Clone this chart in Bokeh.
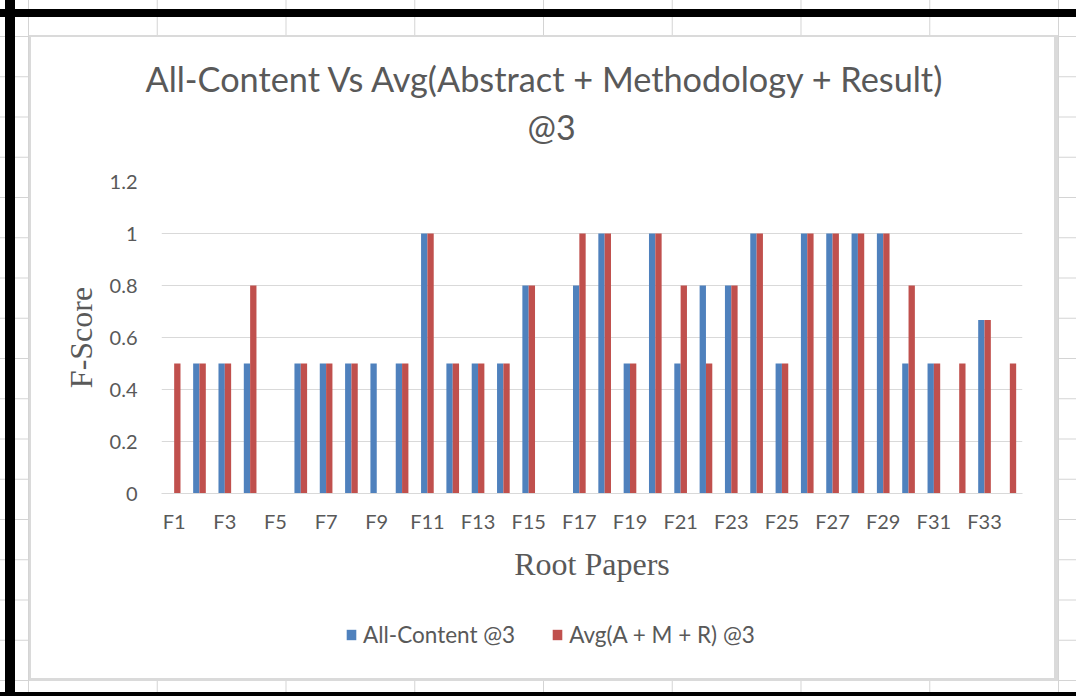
from bokeh.plotting import figure
from bokeh.layouts import column
from bokeh.models import (Range1d, ColumnDataSource, Legend, LegendItem,
                          Title, FixedTicker)
from bokeh.transform import dodge
from bokeh.embed import file_html
from bokeh.resources import INLINE

# ---------------- data ----------------
papers = ["F1", "F2", "F3", "F4", "F5", "F6", "F7", "F8", "F9", "F10",
          "F11", "F12", "F13", "F14", "F15", "F16", "F17", "F18", "F19", "F20",
          "F21", "F22", "F23", "F24", "F25", "F26", "F27", "F28", "F29", "F30",
          "F31", "F32", "F33", "F34"]
all_content = [0, 0.5, 0.5, 0.5, 0, 0.5, 0.5, 0.5, 0.5, 0.5,
               1, 0.5, 0.5, 0.5, 0.8, 0, 0.8, 1, 0.5, 1,
               0.5, 0.8, 0.8, 1, 0.5, 1, 1, 1, 1, 0.5,
               0.5, 0, 0.667, 0]
avg_amr = [0.5, 0.5, 0.5, 0.8, 0, 0.5, 0.5, 0.5, 0, 0.5,
           1, 0.5, 0.5, 0.5, 0.8, 0, 1, 1, 0.5, 1,
           0.8, 0.5, 0.8, 1, 0.5, 1, 1, 1, 1, 0.8,
           0.5, 0.5, 0.667, 0.5]
y_ticks = [0, 0.2, 0.4, 0.6, 0.8, 1.0, 1.2]
y_tick_labels = ["0", "0.2", "0.4", "0.6", "0.8", "1", "1.2"]
x_shown_labels = ["F1", "F3", "F5", "F7", "F9", "F11", "F13", "F15", "F17",
                  "F19", "F21", "F23", "F25", "F27", "F29", "F31", "F33"]
series_names = ["All-Content @3", "Avg(A + M + R) @3"]
title_line1 = "All-Content Vs Avg(Abstract + Methodology + Result)"
title_line2 = "@3"

BLUE = "#4F81BD"
RED = "#C0504D"
GRAY_TEXT = "#595959"
FONT = "Lato"
SERIF = "Liberation Serif"

# category positions along the x scale (1 .. n)
pos = [i + 1 for i in range(len(papers))]
src = ColumnDataSource(dict(pos=pos, paper=papers, all_content=all_content, avg_amr=avg_amr))

p = figure(x_range=Range1d(0.5, len(papers) + 0.5), y_range=Range1d(0, 1.2),
           frame_width=861, frame_height=312, title=None,
           output_backend="svg", toolbar_location=None,
           min_border_left=161, min_border_right=54,
           min_border_top=181, min_border_bottom=117)
p.border_fill_color = None
p.background_fill_color = None
p.outline_line_color = None

r1 = p.vbar(x=dodge("pos", -0.125), top="all_content", width=0.25,
            source=src, fill_color=BLUE, line_color=None)
r2 = p.vbar(x=dodge("pos", 0.125), top="avg_amr", width=0.25,
            source=src, fill_color=RED, line_color=None)

# grid
p.xgrid.grid_line_color = None
p.ygrid.ticker = FixedTicker(ticks=y_ticks)
p.ygrid.grid_line_color = "#d9d9d9"
p.ygrid.grid_line_width = 1

# y axis
ya = p.yaxis[0]
ya.ticker = FixedTicker(ticks=y_ticks)
ya.major_label_overrides = dict(zip(y_ticks, y_tick_labels))
ya.axis_line_color = None
ya.major_tick_line_color = None
ya.minor_tick_line_color = None
ya.major_label_text_font = FONT
ya.major_label_text_font_size = "20px"
ya.major_label_text_color = GRAY_TEXT
ya.major_label_standoff = 18
ya.axis_label = "F-Score"
ya.axis_label_text_font = SERIF
ya.axis_label_text_font_size = "32px"
ya.axis_label_text_font_style = "normal"
ya.axis_label_text_color = GRAY_TEXT
ya.axis_label_standoff = 8

# x axis: every other paper labelled
shown_pos = [pp for pp, f in zip(pos, papers) if f in x_shown_labels]
xa = p.xaxis[0]
xa.ticker = FixedTicker(ticks=shown_pos)
xa.major_label_overrides = {pp: f for pp, f in zip(pos, papers) if f in x_shown_labels}
xa.axis_line_color = "#d9d9d9"
xa.major_tick_line_color = None
xa.minor_tick_line_color = None
xa.major_label_text_font = FONT
xa.major_label_text_font_size = "20px"
xa.major_label_text_color = GRAY_TEXT
xa.major_label_standoff = 9
xa.axis_label = "Root Papers"
xa.axis_label_text_font = SERIF
xa.axis_label_text_font_size = "32px"
xa.axis_label_text_font_style = "normal"
xa.axis_label_text_color = GRAY_TEXT
xa.axis_label_standoff = 10

# titles: spacer closest to the plot, then line 2, then line 1
spacer = Title(text=" ", text_font_size="10px", standoff=22)
t2 = Title(text=title_line2, align="left", offset=366, text_font=FONT, text_font_size="34px",
           text_font_style="normal", text_color=GRAY_TEXT, standoff=0)
t1 = Title(text=title_line1, align="left", offset=-16, text_font=FONT, text_font_size="34.3px",
           text_font_style="normal", text_color=GRAY_TEXT, standoff=10)
p.add_layout(spacer, "above")
p.add_layout(t2, "above")
p.add_layout(t1, "above")

# legend strip below the chart (its own transparent canvas); the proxy bars
# carry the series colours but have zero width, so only the legend shows them
leg = figure(width=1076, height=86, output_backend="svg", toolbar_location=None,
             title=None, x_axis_location=None, y_axis_location=None,
             x_range=Range1d(0.5, len(papers) + 0.5), y_range=Range1d(0, 1.2),
             min_border=0)
leg.border_fill_color = None
leg.background_fill_color = None
leg.outline_line_color = None
leg.grid.visible = False
lr1 = leg.vbar(x="pos", top="all_content", width=0, source=src,
               fill_color=BLUE, line_color=None)
lr2 = leg.vbar(x="pos", top="avg_amr", width=0, source=src,
               fill_color=RED, line_color=None)
legend = Legend(items=[LegendItem(label=series_names[0], renderers=[lr1]),
                       LegendItem(label=series_names[1], renderers=[lr2])],
                orientation="horizontal", location=(184, 48),
                border_line_color=None, background_fill_alpha=0,
                glyph_width=12, glyph_height=13, label_standoff=6, spacing=36,
                label_text_font=FONT, label_text_font_size="22.5px",
                label_text_color=GRAY_TEXT, padding=4, margin=0)
leg.add_layout(legend, "center")

page = column(p, leg, spacing=0)

# spreadsheet-like backdrop (decoration only)
layers = [
    ("linear-gradient(#000,#000)", "100% 8px", "0 9px", "no-repeat"),
    ("linear-gradient(#000,#000)", "10px 100%", "5px 0", "no-repeat"),
    ("linear-gradient(#000,#000)", "100% 4px", "0 692px", "no-repeat"),
    ("linear-gradient(#fff,#fff)", "1023px 641px", "31px 37px", "no-repeat"),
    ("linear-gradient(#dadada,#dadada)", "1029px 646px", "29px 35px", "no-repeat"),
    ("linear-gradient(to right, #d4d4d4 0px, #d4d4d4 1px, transparent 1px)", "128.75px 100%", "28px 0", "repeat-x"),
    ("linear-gradient(to bottom, #d4d4d4 0px, #d4d4d4 1px, transparent 1px)", "100% 40.25px", "0 36px", "repeat-y"),
]
page.styles = {
    "background-color": "#ffffff",
    "background-image": ", ".join(l[0] for l in layers),
    "background-size": ", ".join(l[1] for l in layers),
    "background-position": ", ".join(l[2] for l in layers),
    "background-repeat": ", ".join(l[3] for l in layers),
}

open("out.html", "w").write(file_html(page, INLINE))
